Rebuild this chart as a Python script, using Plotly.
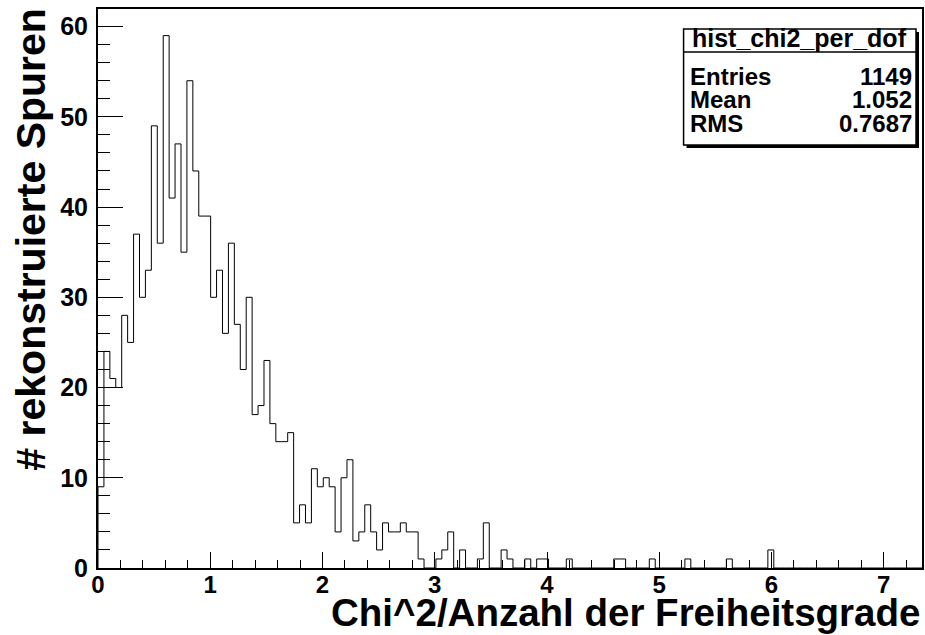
import numpy as np
import plotly.graph_objects as go

# Histogram of chi^2 per degree of freedom for reconstructed tracks
bin_width = 0.05281
counts = [
    9, 24, 21, 20, 28, 25, 37, 30, 33, 49,
    36, 59, 41, 47, 35, 54, 44, 39, 39, 30,
    33, 26, 36, 27, 22, 30, 17, 18, 23, 16,
    14, 14, 15, 5, 7, 5, 11, 9, 10, 9,
    4, 10, 12, 3, 4, 7, 4, 2, 5, 4,
    4, 5, 4, 4, 1, 0, 0, 1, 2, 4,
    0, 2, 0, 0, 1, 5, 0, 0, 2, 1,
    0, 0, 1, 0, 1, 1, 0, 0, 0, 1,
    0, 0, 0, 0, 0, 0, 0, 1, 1, 0,
    0, 0, 0, 1, 0, 0, 0, 0, 0, 1,
    0, 0, 0, 0, 0, 0, 1, 0, 0, 0,
    0, 0, 0, 2, 0, 0, 0, 0, 0, 0,
    0, 0, 0, 0, 0, 0, 0, 0, 0, 0,
    0, 0, 0, 0, 0, 0, 0, 0, 0,
]

hist_name = "hist_chi2_per_dof"
stat_labels = ["Entries", "Mean", "RMS"]
stat_values = ["1149", "1.052", "0.7687"]

x_title = "Chi^2/Anzahl der Freiheitsgrade"
y_title = "# rekonstruierte Spuren"

nbins = len(counts)
edges = np.arange(nbins + 1) * bin_width
x_max = float(edges[-1])
y_max = 1.05 * max(counts)

# Step outline as drawn by ROOT: up from zero, across each bin, back down
xs = [0.0] + list(edges[:-1]) + [x_max, x_max]
ys = [0] + counts + [counts[-1], 0]

W, H = 925, 635
ML, MR, MT, MB = 98, 1, 9, 67
PW, PH = W - ML - MR, H - MT - MB


def fx(px):
    return (px - ML) / PW


def fy(py):
    return (H - MB - py) / PH


FONT = "Liberation Sans, Arial, Helvetica, sans-serif"

fig = go.Figure()
fig.add_trace(go.Scatter(
    x=xs, y=ys, mode="lines",
    line=dict(color="black", width=1, shape="hv"),
    hoverinfo="skip", showlegend=False,
))

axis_common = dict(
    showline=True, linecolor="black", linewidth=2, mirror=True,
    ticks="inside", tickcolor="black", tickwidth=1,
    showgrid=False, zeroline=False,
)

fig.update_xaxes(
    range=[0, x_max], tick0=0, dtick=1, ticklen=16,
    minor=dict(ticks="inside", ticklen=8, dtick=0.2, tick0=0,
               tickcolor="black", tickwidth=1, showgrid=False),
    ticklabelstandoff=-6,
    tickfont=dict(family=FONT, size=24, color="black", weight="bold"),
    **axis_common,
)
fig.update_yaxes(
    range=[0, y_max], tick0=0, dtick=10, ticklen=25,
    minor=dict(ticks="inside", ticklen=12, dtick=2, tick0=0,
               tickcolor="black", tickwidth=1, showgrid=False),
    ticklabelstandoff=3,
    tickfont=dict(family=FONT, size=25, color="black", weight="bold"),
    **axis_common,
)

# Statistics box with drop shadow
bx0, bx1, by0, by1, sep = 685, 918, 29, 145, 52
shapes = [
    dict(type="rect", xref="paper", yref="paper",
         x0=fx(bx0 + 3), x1=fx(bx1 + 3), y0=fy(by1 + 3), y1=fy(by0 + 3),
         fillcolor="black", line=dict(width=0), layer="above"),
    dict(type="rect", xref="paper", yref="paper",
         x0=fx(bx0), x1=fx(bx1), y0=fy(by1), y1=fy(by0),
         fillcolor="white", line=dict(color="black", width=1.5), layer="above"),
    dict(type="line", xref="paper", yref="paper",
         x0=fx(bx0), x1=fx(bx1), y0=fy(sep), y1=fy(sep),
         line=dict(color="black", width=1.5), layer="above"),
]

stat_font = dict(family=FONT, size=24, color="black", weight="bold")
annotations = [
    dict(text=hist_name, x=fx((bx0 + bx1) / 2), y=fy(38), xref="paper", yref="paper",
         xanchor="center", yanchor="middle", showarrow=False,
         font=dict(family=FONT, size=25, color="black", weight="bold")),
]
row_y = [76, 100, 123]
for lab, val, ry in zip(stat_labels, stat_values, row_y):
    annotations.append(dict(text=lab, x=fx(689), y=fy(ry), xref="paper", yref="paper",
                            xanchor="left", yanchor="middle", showarrow=False, font=stat_font))
    annotations.append(dict(text=val, x=fx(916), y=fy(ry), xref="paper", yref="paper",
                            xanchor="right", yanchor="middle", showarrow=False, font=stat_font))

# Axis titles aligned to the far end of each axis
annotations.append(dict(
    text=x_title, x=fx(923), y=fy(635), xref="paper", yref="paper",
    xanchor="right", yanchor="bottom", showarrow=False, borderpad=0,
    font=dict(family=FONT, size=38.5, color="black", weight="bold"),
))
annotations.append(dict(
    text=y_title, x=fx(30), y=fy(6), xref="paper", yref="paper",
    xanchor="center", yanchor="top", textangle=-90, showarrow=False,
    font=dict(family=FONT, size=41, color="black", weight="bold"),
))

fig.update_layout(
    width=W, height=H,
    margin=dict(l=ML, r=MR, t=MT, b=MB, pad=0),
    paper_bgcolor="white", plot_bgcolor="white",
    shapes=shapes, annotations=annotations,
    showlegend=False,
)

fig.write_html("out.html", include_plotlyjs=True, full_html=True,
               config={"displayModeBar": False})
